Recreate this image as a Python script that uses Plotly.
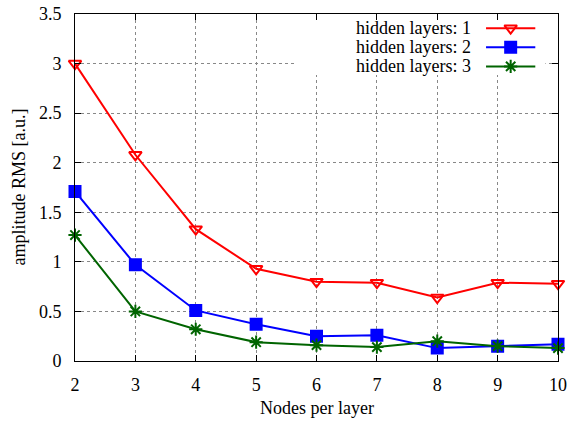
import plotly.graph_objects as go

nodes = [2, 3, 4, 5, 6, 7, 8, 9, 10]
rms_1 = [3.00, 2.08, 1.33, 0.93, 0.80, 0.79, 0.64, 0.79, 0.78]
rms_2 = [1.71, 0.97, 0.51, 0.37, 0.25, 0.26, 0.13, 0.15, 0.17]
rms_3 = [1.27, 0.50, 0.32, 0.19, 0.16, 0.14, 0.20, 0.15, 0.13]
names = ["hidden layers: 1", "hidden layers: 2", "hidden layers: 3"]
colors = ["#ff0000", "#0000ff", "#006400"]
symbols = ["triangle-down-open", "square", "asterisk-open"]
sizes = [11, 11, 11]
series = [rms_1, rms_2, rms_3]

FONT = "Liberation Serif"

fig = go.Figure()
for vals, c, s, sz in zip(series, colors, symbols, sizes):
    fig.add_trace(go.Scatter(
        x=nodes, y=vals, mode="lines+markers",
        line=dict(color=c, width=2),
        marker=dict(symbol=s, size=sz, color=c, line=dict(color=c, width=2)),
        showlegend=False, cliponaxis=False))

# manual legend (text left, sample right) on an overlay axis in [0,1]
box_x = [0.459, 0.974, 0.974, 0.459, 0.459]
box_y = [0.824, 0.824, 0.997, 0.997, 0.824]
fig.add_trace(go.Scatter(x=box_x, y=box_y, xaxis="x2", yaxis="y2", mode="lines",
                         fill="toself", fillcolor="white", line=dict(width=0, color="white"),
                         hoverinfo="skip", showlegend=False))
row_y = [0.959, 0.904, 0.849]
for ry, c, s, sz, nm in zip(row_y, colors, symbols, sizes, names):
    fig.add_trace(go.Scatter(x=[0.851, 0.953], y=[ry, ry], xaxis="x2", yaxis="y2",
                             mode="lines", line=dict(color=c, width=2),
                             hoverinfo="skip", showlegend=False))
    fig.add_trace(go.Scatter(x=[0.902], y=[ry], xaxis="x2", yaxis="y2", mode="markers",
                             marker=dict(symbol=s, size=sz, color=c, line=dict(color=c, width=2)),
                             hoverinfo="skip", showlegend=False))
    fig.add_annotation(x=0.823, y=ry, xref="paper", yref="paper", text=nm,
                       showarrow=False, xanchor="right", yanchor="middle",
                       font=dict(family=FONT, size=18, color="black"))

axis_common = dict(
    showline=True, linecolor="black", linewidth=1, mirror="ticks",
    ticks="inside", ticklen=6, tickcolor="black", tickwidth=1,
    showgrid=True, gridcolor="#888888", griddash="dot", gridwidth=1,
    zeroline=False, tickfont=dict(family=FONT, size=18, color="black"),
    automargin=False,
)
fig.update_layout(
    width=570, height=421,
    margin=dict(l=75, r=12, t=14, b=60),
    plot_bgcolor="white", paper_bgcolor="white",
    font=dict(family=FONT, size=18, color="black"),
    xaxis=dict(range=[2, 10], tickvals=nodes, ticklabelstandoff=7, **axis_common),
    yaxis=dict(range=[0, 3.5], tickvals=[0, 0.5, 1, 1.5, 2, 2.5, 3, 3.5],
               ticktext=["0", "0.5", "1", "1.5", "2", "2.5", "3", "3.5"], ticklabelstandoff=9,
               **axis_common),
    xaxis2=dict(overlaying="x", range=[0, 1], visible=False, fixedrange=True),
    yaxis2=dict(overlaying="y", range=[0, 1], visible=False, fixedrange=True),
)
fig.add_annotation(x=0.5, y=-0.136, xref="paper", yref="paper", text="Nodes per layer",
                   showarrow=False, xanchor="center", yanchor="middle",
                   font=dict(family=FONT, size=18, color="black"))
fig.add_annotation(x=-0.118, y=0.5, xref="paper", yref="paper", text="amplitude RMS [a.u.]",
                   showarrow=False, xanchor="center", yanchor="middle", textangle=-90,
                   font=dict(family=FONT, size=18, color="black"))

fig.write_html("out.html")
